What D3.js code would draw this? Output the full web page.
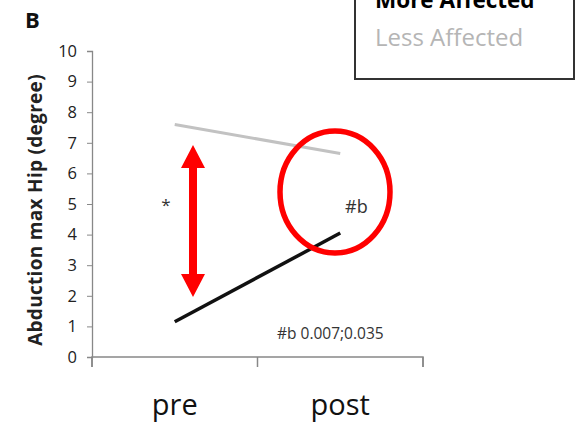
<!DOCTYPE html>
<html><head><meta charset="utf-8">
<script src="https://cdn.jsdelivr.net/npm/d3@7"></script>
<style>body{margin:0;background:#fff}svg{display:block}</style>
</head><body>
<script>
const categories = ["pre", "post"];
const moreAffected = [1.15, 4.05];
const lessAffected = [7.6, 6.65];
const yTicks = [0,1,2,3,4,5,6,7,8,9,10];
const seriesNames = ["More Affected", "Less Affected"];

const W = 576, H = 423;
const svg = d3.select("body").append("svg").attr("width", W).attr("height", H);
svg.append("rect").attr("width", W).attr("height", H).attr("fill", "#fff");

const x0 = 92, x1 = 423, yTop = 51, yBot = 357;
const x = d3.scaleBand().domain(categories).range([x0, x1]);
const y = d3.scaleLinear().domain([0, 10]).range([yBot, yTop]);
const font = "'Open Sans', sans-serif";

// y axis
const ya = svg.append("g").attr("transform", `translate(${x0},0)`)
  .call(d3.axisLeft(y).tickValues(yTicks).tickSize(5).tickPadding(10));
ya.select(".domain").attr("stroke", "#888").attr("stroke-width", 1.3);
ya.selectAll(".tick line").attr("stroke", "#888");
ya.selectAll(".tick text").attr("font-family", font).attr("font-size", 16.5).attr("fill", "#222");

// x axis
const xa = svg.append("g").attr("transform", `translate(0,${yBot})`)
  .call(d3.axisBottom(x).tickSize(0).tickPadding(37));
xa.select(".domain").attr("stroke", "#888").attr("stroke-width", 1.5).attr("d", `M${x0},10V0H${x1}V10`);
xa.selectAll(".tick text").attr("font-family", font).attr("font-size", 29).attr("fill", "#111");
const bounds = [x0, x.step() + x0, x1];
xa.selectAll(".bt").data(bounds).enter().append("line")
  .attr("x1", d => d).attr("x2", d => d).attr("y1", 0).attr("y2", 10)
  .attr("stroke", "#888").attr("stroke-width", 1.5);

// lines
const cx = d => x(d) + x.bandwidth() / 2;
const line = d3.line().x(d => cx(d.c)).y(d => y(d.v));
svg.append("path").datum(categories.map((c, i) => ({c, v: lessAffected[i]})))
  .attr("d", line).attr("fill", "none").attr("stroke", "#c2c2c2").attr("stroke-width", 3);
svg.append("path").datum(categories.map((c, i) => ({c, v: moreAffected[i]})))
  .attr("d", line).attr("fill", "none").attr("stroke", "#111").attr("stroke-width", 3.5);

// y label
svg.append("text").attr("transform", `translate(42,${(yTop + yBot) / 2 + 6}) rotate(-90)`)
  .attr("text-anchor", "middle").attr("font-family", font).attr("font-weight", "bold")
  .attr("font-size", 19).attr("letter-spacing", 0.3).attr("fill", "#222").text("Abduction max Hip (degree)");

// panel letter
svg.append("text").attr("x", 25).attr("y", 28).attr("font-family", font).attr("font-weight", "bold")
  .attr("font-size", 22).attr("fill", "#111").text("B");

// annotations
svg.append("text").attr("x", 166).attr("y", 211).attr("text-anchor", "middle").attr("font-family", font)
  .attr("font-size", 17).attr("fill", "#333").text("*");
svg.append("text").attr("x", 345).attr("y", 213).attr("font-family", font)
  .attr("font-size", 18).attr("fill", "#333").text("#b");
svg.append("text").attr("x", 277).attr("y", 339).attr("font-family", font)
  .attr("font-size", 15.5).attr("fill", "#333").text("#b 0.007;0.035");

// red double arrow
const ax = 193, aTop = 145, aBot = 297, hw = 12, hl = 23, sw = 4;
svg.append("path").attr("fill", "#ff0000").attr("d",
  `M${ax},${aTop} L${ax + hw},${aTop + hl} L${ax + sw},${aTop + hl} L${ax + sw},${aBot - hl} L${ax + hw},${aBot - hl} L${ax},${aBot} L${ax - hw},${aBot - hl} L${ax - sw},${aBot - hl} L${ax - sw},${aTop + hl} L${ax - hw},${aTop + hl} Z`);

// red ellipse
svg.append("ellipse").attr("cx", 335).attr("cy", 192).attr("rx", 55).attr("ry", 61)
  .attr("fill", "none").attr("stroke", "#ff0000").attr("stroke-width", 5.5);

// legend
svg.append("rect").attr("x", 355).attr("y", -10).attr("width", 219).attr("height", 89)
  .attr("fill", "#fff").attr("stroke", "#333").attr("stroke-width", 2);
svg.append("text").attr("x", 375).attr("y", 8).attr("font-family", font).attr("font-weight", "bold")
  .attr("font-size", 22.5).attr("fill", "#000").text(seriesNames[0]);
svg.append("text").attr("x", 375).attr("y", 46).attr("font-family", font)
  .attr("font-size", 24).attr("fill", "#b5b5b5").text(seriesNames[1]);
</script>
</body></html>
